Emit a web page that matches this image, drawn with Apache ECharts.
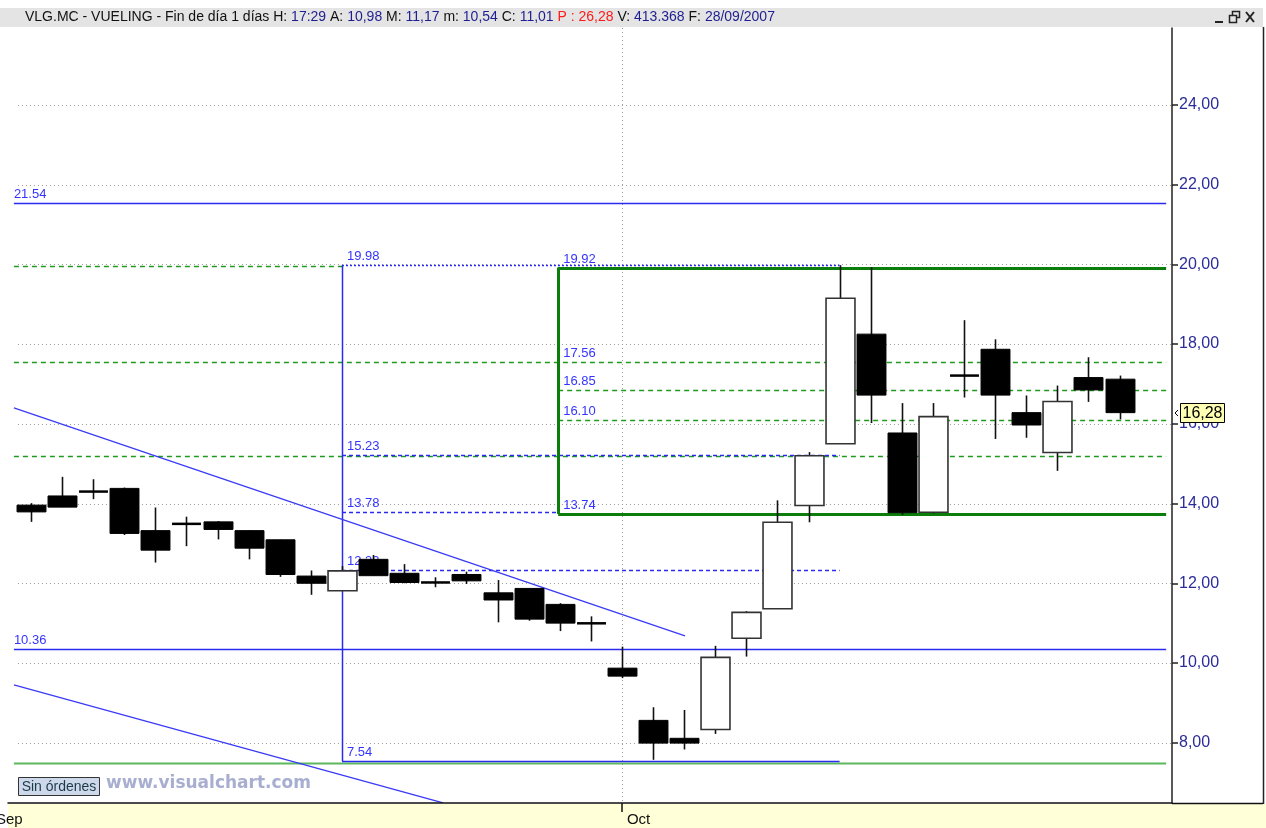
<!DOCTYPE html>
<html><head><meta charset="utf-8">
<script src="https://cdn.jsdelivr.net/npm/echarts@6/dist/echarts.min.js"></script>
<style>html,body{margin:0;padding:0;background:#fff;}#c{width:1266px;height:828px;}</style>
</head><body><div id="c"></div>
<script>
// ---------- data ----------
const dates = ['04/09/2007','05/09/2007','06/09/2007','07/09/2007','10/09/2007','11/09/2007','12/09/2007','13/09/2007','14/09/2007','17/09/2007','18/09/2007','19/09/2007','20/09/2007','21/09/2007','24/09/2007','25/09/2007','26/09/2007','27/09/2007','28/09/2007',
  '01/10/2007','02/10/2007','03/10/2007','04/10/2007','05/10/2007','08/10/2007','09/10/2007','10/10/2007','11/10/2007','12/10/2007','15/10/2007','16/10/2007','17/10/2007','18/10/2007','19/10/2007','22/10/2007','23/10/2007'];
const opens  = [13.96,14.19,14.31,14.38,13.32,13.50,13.54,13.32,13.09,12.18,11.81,12.60,12.25,12.03,12.22,11.76,11.87,11.47,10.98,
  9.87,8.56,8.11,8.33,10.62,11.36,13.95,15.50,18.25,15.77,13.78,17.23,17.87,16.28,15.28,17.16,17.12];
const closes = [13.79,13.91,14.29,13.25,12.83,13.48,13.35,12.88,12.22,12.00,12.31,12.19,12.02,12.01,12.06,11.58,11.10,11.00,11.01,
  9.67,7.99,7.99,10.14,11.27,13.53,15.20,19.15,16.72,13.77,16.18,17.19,16.72,15.97,16.56,16.85,16.28];
const lows   = [13.54,13.91,14.11,13.21,12.52,12.93,13.10,12.60,12.16,11.71,11.81,12.19,12.00,11.90,11.98,11.02,11.06,10.80,10.54,
  9.62,7.57,7.83,8.22,10.16,11.36,13.53,15.50,16.02,13.71,13.75,16.66,15.62,15.65,14.82,16.55,16.11];
const highs  = [14.01,14.67,14.61,14.40,13.90,13.67,13.56,13.32,13.09,12.32,12.43,12.71,12.48,12.15,12.29,12.08,11.87,11.50,11.17,
  10.41,8.89,8.82,10.43,11.30,14.08,15.29,19.98,19.93,16.52,16.52,18.60,18.12,16.71,16.96,17.67,17.21];
const monthNames = {'09':'Sep','10':'Oct'};
const yTicks = [8,10,12,14,16,18,20,22,24];
const headerInfo = {symbol:'VLG.MC - VUELING - Fin de día 1 días', hour:'17:29', p:'26,28', volume:'413.368', date:'28/09/2007'};
// horizontal level lines: [xFrom, value, xTo, label, kind]
const levelLines = [
  [-0.55, 19.95, 10, '', 'greenDash'],
  [-0.55, 17.56, 36.5, '', 'greenDash'],
  [-0.55, 15.20, 36.5, '', 'greenDash'],
  [-0.55, 7.50, 36.5, '', 'greenThin'],
  [-0.55, 21.54, 36.5, '21.54', 'blueFull'],
  [-0.55, 10.36, 36.5, '10.36', 'blueFull'],
  [10, 19.98, 26, '19.98', 'blueDot'],
  [10, 15.23, 26, '15.23', 'blueDash'],
  [10, 13.78, 16.95, '13.78', 'blueDash'],
  [10, 12.33, 26, '12.33', 'blueDash'],
  [10, 7.54, 26, '7.54', 'blueSolid'],
  [16.95, 17.56, 36.5, '17.56', 'labelOnly'],
  [16.95, 16.85, 36.5, '16.85', 'greenDash'],
  [16.95, 16.10, 36.5, '16.10', 'greenDash'],
  [16.95, 19.92, 36.5, '19.92', 'greenThick'],
  [16.95, 13.74, 36.5, '13.74', 'greenThick']
];
// vertical lines: [x, valueFrom, valueTo, kind]
const verticalLines = [
  [10, 19.98, 7.54, 'blueSolid'],
  [16.95, 19.92, 13.74, 'greenThick']
];
// trend lines: [x0, v0, x1, v1]
const trendLines = [
  [-0.55, 16.40, 21.03, 10.68],
  [-0.55, 9.45, 13.25, 6.49]
];

// ---------- styles ----------
const lineKinds = {
  greenDash:  {stroke:'#1f9a1f', lineWidth:1.3, lineDash:[5,4], dx:5},
  labelOnly:  {stroke:null, lineWidth:0, dx:5},
  greenThin:  {stroke:'#5cb85c', lineWidth:2, dx:5},
  greenThick: {stroke:'#0b7d0b', lineWidth:3, dx:5},
  blueFull:   {stroke:'#2a2af2', lineWidth:1.5, dx:0},
  blueSolid:  {stroke:'#2a2af2', lineWidth:1.5, dx:5},
  blueDash:   {stroke:'#2a2af2', lineWidth:1.5, lineDash:[4,3], dx:5},
  blueDot:    {stroke:'#2a2af2', lineWidth:1.5, lineDash:[2,2], dx:5}
};
const X_MIN = -0.7395, X_MAX = 36.688, Y_MIN = 6.487, Y_MAX = 25.93;
const FONT = '"Liberation Sans", Arial, sans-serif';

const candleData = dates.map((d,i)=>[i, opens[i], closes[i], lows[i], highs[i]]);
const monthTicks = [];
dates.forEach((d,i)=>{ if(i>0 && d.slice(3,5)!==dates[i-1].slice(3,5)) monthTicks.push(i); });
const fmt = v => v.toFixed(2).replace('.',',');
const hi = dates.indexOf(headerInfo.date);

const chart = echarts.init(document.getElementById('c'), null, {renderer:'canvas'});

function candleItem(params, api){
  const x=api.value(0), o=api.value(1), c=api.value(2), l=api.value(3), h=api.value(4);
  const pO=api.coord([x,o]), pC=api.coord([x,c]), pL=api.coord([x,l]), pH=api.coord([x,h]);
  const w = api.size([1,0])[0]*0.93;
  const px = Math.round(pO[0])+0.5;
  const doji = Math.abs(c-o) < 0.05;
  const up = c > o && !doji;
  let top = Math.min(pO[1],pC[1]), hgt = Math.abs(pO[1]-pC[1]);
  if (doji){ top = (pO[1]+pC[1])/2 - 1.25; hgt = 2.5; }
  return {type:'group', children:[
    {type:'line', shape:{x1:px,y1:pH[1],x2:px,y2:pL[1]}, style:{stroke:'#111',lineWidth:1.6}},
    {type:'rect', shape:{x:px-w/2,y:top,width:w,height:hgt},
     style:{fill: up?'#fff':'#000', stroke: up?'#333':'#000', lineWidth: up?1.6:(doji?0:1)}}
  ]};
}

function levelItem(params, api){
  const d = levelLines[params.dataIndex];
  const k = lineKinds[d[4]];
  const p0 = api.coord([d[0], d[1]]), p1 = api.coord([d[2], d[1]]);
  const y = Math.round(p0[1])+0.5;
  const ch = [];
  if (k.stroke) ch.push({type:'line', shape:{x1:p0[0],y1:y,x2:p1[0],y2:y},
    style:{stroke:k.stroke, lineWidth:k.lineWidth, lineDash:k.lineDash||null}});
  if (d[3]) ch.push({type:'text', x:p0[0]+k.dx, y:y-3,
    style:{text:d[3], fill:'#3434ff', font:'13px '+FONT, textVerticalAlign:'bottom', textAlign:'left'}});
  return {type:'group', children:ch};
}
function vItem(params, api){
  const d = verticalLines[params.dataIndex];
  const k = lineKinds[d[3]];
  const p0 = api.coord([d[0], d[1]]), p1 = api.coord([d[0], d[2]]);
  const x = Math.round(p0[0])+0.5;
  return {type:'line', shape:{x1:x,y1:p0[1],x2:x,y2:p1[1]}, style:{stroke:k.stroke,lineWidth:k.lineWidth}};
}
function trendItem(params, api){
  const d = trendLines[params.dataIndex];
  const p0 = api.coord([d[0], d[1]]), p1 = api.coord([d[2], d[3]]);
  return {type:'line', shape:{x1:p0[0],y1:p0[1],x2:p1[0],y2:p1[1]}, style:{stroke:'#3a3af5',lineWidth:1.3}};
}
function gridItem(params, api){
  const v = yTicks[params.dataIndex];
  const p0 = api.coord([-0.42, v]), p1 = api.coord([X_MAX, v]);
  const y = Math.round(p0[1])+0.5;
  return {type:'line', shape:{x1:p0[0],y1:y,x2:p1[0],y2:y}, style:{stroke:'#9a9a9a',lineWidth:1,lineDash:[1,3]}};
}
function vGridItem(params, api){
  const i = monthTicks[params.dataIndex];
  const p0 = api.coord([i, Y_MAX]), p1 = api.coord([i, Y_MIN]);
  const x = Math.round(p0[0])+0.5;
  return {type:'line', shape:{x1:x,y1:p0[1],x2:x,y2:p1[1]}, style:{stroke:'#9a9a9a',lineWidth:1,lineDash:[1,3]}};
}
function tagItem(params, api){
  const v = api.value(1);
  const p = api.coord([X_MAX, v]);
  const y = Math.round(p[1]);
  return {type:'group', children:[
    {type:'polyline', shape:{points:[[p[0]+6,y-3],[p[0]+3,y],[p[0]+6,y+3]]}, style:{stroke:'#000',lineWidth:1,fill:null}},
    {type:'rect', shape:{x:p[0]+8.5,y:y-9.5,width:44,height:19}, style:{fill:'#ffffb4',stroke:'#000',lineWidth:1}},
    {type:'text', x:p[0]+30.5, y:y+0.5, style:{text:fmt(v), fill:'#000', font:'16px '+FONT, textAlign:'center', textVerticalAlign:'middle'}}
  ]};
}

// header rich text
const hParts = [
  ['l', headerInfo.symbol + ' H: '], ['v', headerInfo.hour],
  ['l',' A: '], ['v', fmt(opens[hi])],
  ['l',' M: '], ['v', fmt(highs[hi])],
  ['l',' m: '], ['v', fmt(lows[hi])],
  ['l',' C: '], ['v', fmt(closes[hi])],
  ['r',' P : ' + headerInfo.p],
  ['l',' V: '], ['v', headerInfo.volume],
  ['l',' F: '], ['v', headerInfo.date]
];
const headerText = hParts.map(p=>'{'+p[0]+'|'+p[1]+'}').join('');
const HF = 14;

const option = {
  animation:false,
  backgroundColor:'#ffffff',
  grid:{left:8, top:28, width:1164, height:775, containLabel:false, z:2},
  xAxis:{type:'value', min:X_MIN, max:X_MAX, splitLine:{show:false}, z:5,
    axisLine:{show:true, onZero:false, lineStyle:{color:'#111', width:1.5}},
    axisTick:{show:true, customValues:monthTicks, length:9, lineStyle:{color:'#111', width:1.5}},
    axisLabel:{show:true, customValues:monthTicks, formatter:(v)=>monthNames[dates[Math.round(v)].slice(3,5)],
      align:'left', padding:[0,0,0,5], margin:9, color:'#111', fontSize:15, fontFamily:FONT}},
  yAxis:{type:'value', position:'right', min:Y_MIN, max:Y_MAX, splitLine:{show:false}, z:5,
    axisLine:{show:true, onZero:false, lineStyle:{color:'#222', width:1.5}},
    axisTick:{show:true, customValues:yTicks, length:6, lineStyle:{color:'#222', width:1.5}},
    axisLabel:{customValues:yTicks, formatter:fmt, color:'#2b2b9c', fontSize:16, margin:7, fontFamily:FONT}},
  series:[
    {type:'custom', name:'grid', renderItem:gridItem, data:yTicks.map(v=>[0,v]), encode:{x:0,y:1}, silent:true},
    {type:'custom', name:'months', renderItem:vGridItem, data:monthTicks.map(i=>[i,Y_MIN]), encode:{x:0,y:1}, silent:true},
    {type:'custom', name:'levels', renderItem:levelItem, data:levelLines.map(d=>[d[0],d[1],d[2]]), encode:{x:[0,2],y:1}, silent:true},
    {type:'custom', name:'verticals', renderItem:vItem, data:verticalLines.map(d=>[d[0],d[1],d[2]]), encode:{x:0,y:[1,2]}, silent:true},
    {type:'custom', name:'trends', renderItem:trendItem, data:trendLines.map(d=>[d[0],d[1],d[2],d[3]]), encode:{x:[0,2],y:[1,3]}, silent:true, clip:true},
    {type:'custom', name:'VLG.MC', renderItem:candleItem, data:candleData, encode:{x:0,y:[1,2,3,4]}},
    {type:'custom', name:'last', renderItem:tagItem, data:[[dates.length-1, closes[closes.length-1]]], encode:{x:0,y:1}, silent:true, z:8}
  ],
  graphic:{z:0, elements:[
    {type:'rect', left:8, top:804, shape:{width:1258, height:24}, style:{fill:'#ffffd8'}, z:-10},
    {type:'rect', left:0, top:8, shape:{width:1263, height:19}, style:{fill:'#e4e4e4'}, z:10},
    {type:'text', x:25, y:17.5, z:11, style:{text:headerText, font:HF+'px '+FONT, textVerticalAlign:'middle',
      rich:{l:{fill:'#111', fontSize:HF}, v:{fill:'#1e1e90', fontSize:HF}, r:{fill:'#ff1a1a', fontSize:HF}}}},
    // window buttons
    {type:'line', z:11, shape:{x1:1215,y1:22,x2:1223,y2:22}, style:{stroke:'#222',lineWidth:2}},
    {type:'rect', z:11, shape:{x:1232.5,y:11.5,width:7,height:6}, style:{fill:null,stroke:'#222',lineWidth:1.5}},
    {type:'rect', z:11, shape:{x:1229.5,y:15.5,width:7,height:7}, style:{fill:'#e4e4e4',stroke:'#222',lineWidth:1.5}},
    {type:'line', z:11, shape:{x1:1246,y1:12,x2:1254,y2:22}, style:{stroke:'#222',lineWidth:2}},
    {type:'line', z:11, shape:{x1:1254,y1:12,x2:1246,y2:22}, style:{stroke:'#222',lineWidth:2}},
    // right panel frame
    {type:'line', z:2, shape:{x1:1172,y1:803.5,x2:1263,y2:803.5}, style:{stroke:'#111',lineWidth:1.5}},
    {type:'line', z:2, shape:{x1:1263.5,y1:27,x2:1263.5,y2:804}, style:{stroke:'#222',lineWidth:1.5}},
    {type:'text', x:-4, y:820, z:3, style:{text:monthNames[dates[0].slice(3,5)], fill:'#111', font:'15px '+FONT, textVerticalAlign:'middle'}},
    // broker button and watermark
    {type:'rect', z:20, shape:{x:18.5,y:777.5,width:81,height:18}, style:{fill:'#cdd9ea',stroke:'#333',lineWidth:1}},
    {type:'text', z:21, x:59, y:787, style:{text:'Sin órdenes', fill:'#1d3a4a', font:'14px '+FONT, textAlign:'center', textVerticalAlign:'middle'}},
    {type:'text', z:21, x:106, y:784, style:{text:'www.visualchart.com', fill:'#a8aed0', font:'bold 17px "DejaVu Sans", Verdana, sans-serif', textVerticalAlign:'middle'}}
  ]}
};
chart.setOption(option);
</script></body></html>
